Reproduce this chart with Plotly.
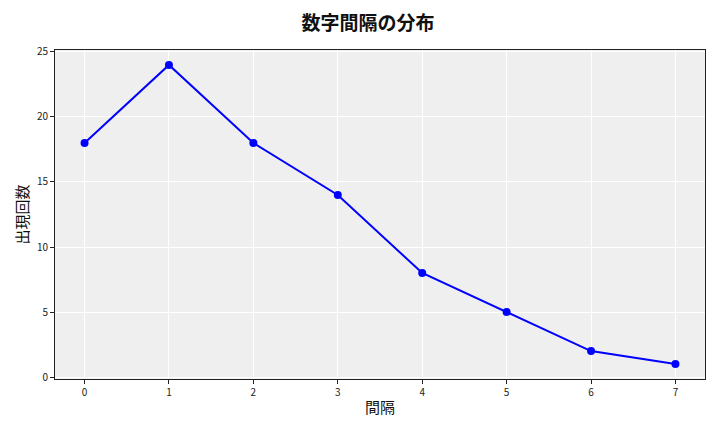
import plotly.graph_objects as go

gaps = [0, 1, 2, 3, 4, 5, 6, 7]
counts = [18, 24, 18, 14, 8, 5, 2, 1]

font = "Noto Sans CJK JP"

fig = go.Figure(go.Scatter(
    x=gaps, y=counts, mode="lines+markers",
    line=dict(color="#0000ff", width=2),
    marker=dict(color="#0000ff", size=8),
))

axis = dict(
    showline=True, linecolor="#222", linewidth=1, mirror=True,
    showgrid=True, gridcolor="white", gridwidth=1,
    ticks="outside", ticklen=4, tickcolor="#222",
    tickfont=dict(size=10, color="#222", family=font),
    zeroline=False, automargin=False,
)

# page body has an 8px margin, so the figure margins are shifted to match
fig.update_layout(
    width=720, height=432,
    margin=dict(l=47, r=23, t=42, b=61),
    paper_bgcolor="white", plot_bgcolor="#efefef",
    showlegend=False,
    font=dict(family=font),
    title=dict(text="<b>数字間隔の分布</b>", x=0.5, xanchor="center", y=0.965, yanchor="middle",
               font=dict(size=19, color="#111", family=font)),
    xaxis=dict(axis, range=[-0.35, 7.35], tickvals=gaps, ticktext=[str(g) for g in gaps],
               title=dict(text="間隔", font=dict(size=15, color="#111"), standoff=4)),
    yaxis=dict(axis, range=[-0.15, 25.15], tickvals=[0, 5, 10, 15, 20, 25],
               title=dict(text="出現回数", font=dict(size=15, color="#111"), standoff=4)),
)

fig.write_html("out.html")
